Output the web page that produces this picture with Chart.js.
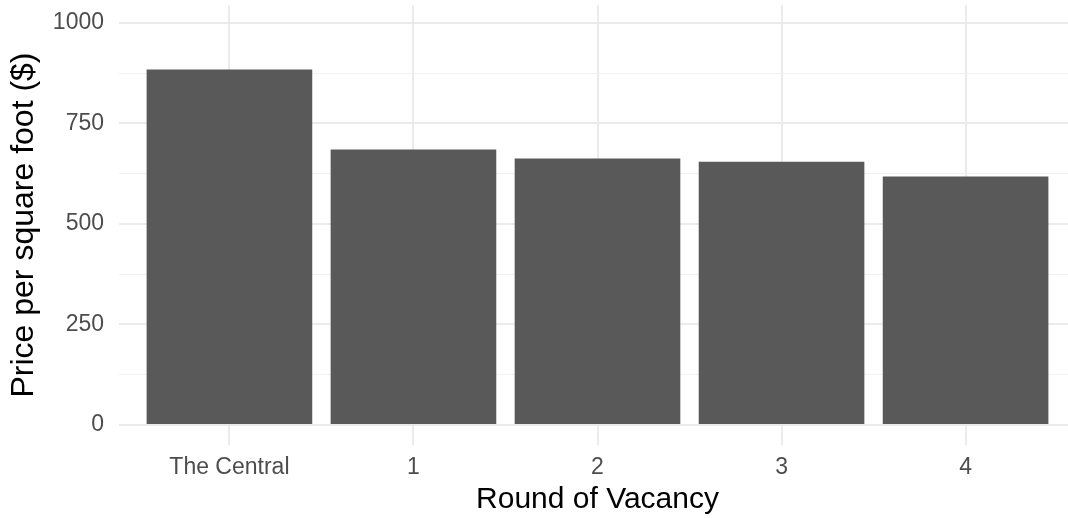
<!DOCTYPE html>
<html lang="en">
<head>
    <meta charset="UTF-8">
    <title>Price per square foot by round of vacancy</title>
    <script src="https://cdn.jsdelivr.net/npm/chart.js"></script>
    <style>
        body {
            margin: 0;
            background: #ffffff;
            overflow: hidden;
        }
        #wrap {
            width: 1076px;
            height: 518px;
        }
    </style>
</head>
<body>
    <div id="wrap">
        <canvas id="barChart" width="1076" height="518"></canvas>
    </div>

    <script>
        // data
        const categories = ["The Central", "1", "2", "3", "4"];
        const pricePerSqFt = [884, 685, 663, 655, 618];
        const yTicks = [0, 125, 250, 375, 500, 625, 750, 875, 1000];
        const yLabelled = [0, 250, 500, 750, 1000];

        const FONT = "'Liberation Sans', Arial, sans-serif";

        const ctx = document.getElementById("barChart").getContext("2d");

        const barChart = new Chart(ctx, {
            type: "bar",
            data: {
                datasets: [{
                    data: pricePerSqFt.map((v, i) => ({ x: i, y: v })),
                    backgroundColor: "#595959",
                    borderWidth: 0,
                    barPercentage: 0.9,
                    categoryPercentage: 1.0
                }]
            },
            options: {
                responsive: false,
                animation: false,
                layout: { padding: { top: 5, left: 0, right: 0, bottom: 0 } },
                plugins: {
                    legend: { display: false },
                    tooltip: { enabled: false }
                },
                scales: {
                    x: {
                        type: "linear",
                        offset: false,
                        min: -0.6,
                        max: 4.6,
                        afterBuildTicks: (s) => { s.ticks = categories.map((c, i) => ({ value: i })); },
                        afterFit: (s) => {
                            s.height = 73;
                            s.paddingLeft = 0;
                            s.paddingRight = 0;
                        },
                        border: { display: false },
                        grid: { color: "#ebebeb", lineWidth: 2, drawTicks: false, offset: false },
                        ticks: {
                            color: "#4d4d4d",
                            padding: 9,
                            font: { family: FONT, size: 23 },
                            callback: (v) => categories[v]
                        },
                        title: {
                            display: true,
                            text: "Round of Vacancy",
                            color: "#000000",
                            padding: { top: 0, bottom: 0 },
                            font: { family: FONT, size: 30 }
                        }
                    },
                    y: {
                        min: -49.75,
                        max: 1044.75,
                        afterBuildTicks: (s) => { s.ticks = yTicks.map(v => ({ value: v })); },
                        afterFit: (s) => {
                            s.width = 119;
                            s.paddingTop = 0;
                            s.paddingBottom = 0;
                        },
                        border: { display: false },
                        grid: {
                            color: (c) => yLabelled.includes(c.tick.value) ? "#ebebeb" : "#f1f1f1",
                            lineWidth: (c) => yLabelled.includes(c.tick.value) ? 2 : 1,
                            drawTicks: false
                        },
                        ticks: {
                            color: "#4d4d4d",
                            padding: 15,
                            font: { family: FONT, size: 23 },
                            callback: (v) => yLabelled.includes(v) ? v : ""
                        },
                        title: {
                            display: true,
                            text: "Price per square foot ($)",
                            color: "#000000",
                            padding: { top: 5, bottom: 0 },
                            font: { family: FONT, size: 32 }
                        }
                    }
                }
            }
        });
    </script>
</body>
</html>
